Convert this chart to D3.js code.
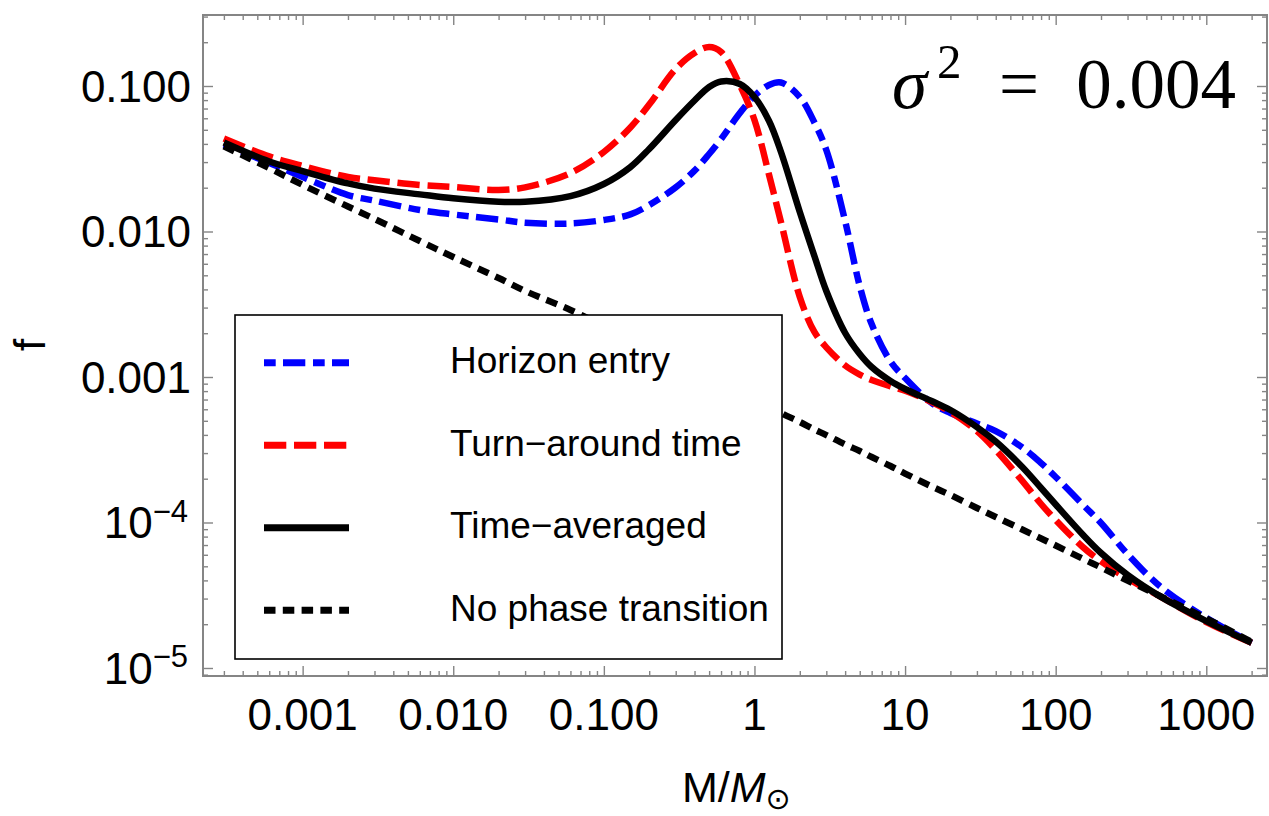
<!DOCTYPE html>
<html>
<head>
<meta charset="utf-8">
<script src="https://cdn.jsdelivr.net/npm/d3@7"></script>
<style>
  html, body { margin: 0; padding: 0; background: #fff; }
  svg { display: block; }
</style>
</head>
<body>
<svg id="chart" width="1269" height="816"></svg>
<script>
// Mass grid (in solar masses) shared by all four curves
const massGrid = [0.0003, 0.0006, 0.001, 0.002, 0.003, 0.006, 0.01, 0.02, 0.03, 0.06,
  0.1, 0.15, 0.2, 0.3, 0.4, 0.5, 0.6, 0.8, 1, 1.25,
  1.5, 2, 2.5, 3, 4, 5, 6, 8, 10, 15,
  20, 30, 40, 60, 80, 100, 150, 200, 300, 500,
  1000, 2000];

// Fraction f for each scenario on the mass grid
const horizonEntry = [0.0396, 0.0296, 0.0237, 0.0178, 0.0163, 0.01405, 0.0131, 0.0121, 0.0115, 0.01135,
  0.0120, 0.0131, 0.0152, 0.0201, 0.0262, 0.0341, 0.0432, 0.0652, 0.0854, 0.1016,
  0.1057, 0.0840, 0.0561, 0.0363, 0.0118, 0.00422, 0.00231, 0.00128, 0.000984, 0.000663,
  0.000566, 0.000479, 0.000425, 0.000328, 0.000256, 0.0002055, 0.000134, 0.0000992, 0.0000607, 0.0000360,
  0.0000221, 0.0000149];

const turnAround = [0.0436, 0.0328, 0.0282, 0.0237, 0.0225, 0.0209, 0.0202, 0.0193, 0.0201, 0.0252,
  0.0352, 0.0519, 0.0745, 0.1309, 0.1686, 0.1854, 0.1713, 0.1016, 0.0584, 0.0245,
  0.0116, 0.00355, 0.00204, 0.00160, 0.00120, 0.00104, 0.000954, 0.000863, 0.000805, 0.000673,
  0.000575, 0.000425, 0.000315, 0.000193, 0.000134, 0.000104, 0.0000684, 0.0000540, 0.0000412, 0.0000308,
  0.0000207, 0.0000149];

const timeAveraged = [0.0409, 0.0303, 0.0260, 0.0214, 0.0197, 0.0180, 0.0169, 0.0160, 0.0160, 0.0175,
  0.0212, 0.0277, 0.0369, 0.0584, 0.0795, 0.0984, 0.1074, 0.1032, 0.0840, 0.0575,
  0.0352, 0.01361, 0.00679, 0.00390, 0.002006, 0.001439, 0.001171, 0.000939, 0.000827, 0.000684,
  0.000593, 0.000453, 0.000360, 0.0002406, 0.0001726, 0.000133, 0.0000834, 0.0000617, 0.0000436, 0.0000308,
  0.0000210, 0.0000149];

const noTransition = [0.0385, 0.0273, 0.0209, 0.01485, 0.0122, 0.00860, 0.00668, 0.00479, 0.00390, 0.00289,
  0.00224, 0.00182, 0.00158, 0.00129, 0.00112, 0.00100, 0.000909, 0.000788, 0.000706, 0.000632,
  0.000566, 0.000491, 0.000436, 0.000399, 0.000344, 0.000310, 0.000282, 0.0002445, 0.000217, 0.000177,
  0.0001545, 0.0001258, 0.0001091, 0.0000895, 0.0000776, 0.0000695, 0.0000566, 0.0000491, 0.0000399, 0.0000310,
  0.0000219, 0.0000151];

// Axis ticks and labels
const xTickValues = [0.001, 0.01, 0.1, 1, 10, 100, 1000];
const xTickLabels = ["0.001", "0.010", "0.100", "1", "10", "100", "1000"];
const yTickValues = [0.1, 0.01, 0.001, 1e-4, 1e-5];
const yTickLabels = [["0.100", ""], ["0.010", ""], ["0.001", ""], ["10", "\u22124"], ["10", "\u22125"]];

const seriesNames = ["Horizon entry", "Turn\u2212around time", "Time\u2212averaged", "No phase transition"];
const seriesValues = [horizonEntry, turnAround, timeAveraged, noTransition];
const seriesColors = ["#0000ff", "#ff0000", "#000000", "#000000"];
const seriesDashes = ["11.7,7.3,22.3,7.7", "22.3,7.7", null, "11.5,7.3"];

const svg = d3.select("#chart");
const sans = "'Liberation Sans', Arial, Helvetica, sans-serif";
const serif = "'Liberation Serif', 'Times New Roman', serif";
const frameGray = "#858585";

const plot = { left: 203, right: 1267, top: 15, bottom: 676 };
const x = d3.scaleLog().domain([2.18e-4, 2530]).range([plot.left, plot.right]);
const y = d3.scaleLog().domain([8.81e-6, 0.3076]).range([plot.bottom, plot.top]);

// Minor tick positions (2..9 times each power of ten) inside each domain
function minorTicks(scale, lo, hi) {
  const [d0, d1] = scale.domain();
  const out = [];
  for (let e = lo; e <= hi; e++) {
    for (let k = 2; k <= 9; k++) {
      const v = k * Math.pow(10, e);
      if (v >= d0 && v <= d1) out.push(v);
    }
  }
  return out;
}
const xMinor = minorTicks(x, -4, 3);
const yMinor = minorTicks(y, -6, -1);

function styleAxis(g) {
  g.select(".domain").remove();
  g.selectAll(".tick line").attr("stroke", frameGray).attr("stroke-width", 1.4);
  g.selectAll(".tick text").remove();
}

// Inward ticks on all four sides
const axes = svg.append("g").attr("class", "axes");
[[xTickValues, 10], [xMinor, 5]].forEach(([vals, len]) => {
  axes.append("g").attr("transform", `translate(0,${plot.bottom})`)
    .call(d3.axisBottom(x).tickValues(vals).tickSize(-len).tickFormat("")).call(styleAxis);
  axes.append("g").attr("transform", `translate(0,${plot.top})`)
    .call(d3.axisTop(x).tickValues(vals).tickSize(-len).tickFormat("")).call(styleAxis);
});
[[yTickValues, 10], [yMinor, 5]].forEach(([vals, len]) => {
  axes.append("g").attr("transform", `translate(${plot.left},0)`)
    .call(d3.axisLeft(y).tickValues(vals).tickSize(-len).tickFormat("")).call(styleAxis);
  axes.append("g").attr("transform", `translate(${plot.right},0)`)
    .call(d3.axisRight(y).tickValues(vals).tickSize(-len).tickFormat("")).call(styleAxis);
});

// Tick labels
svg.append("g").selectAll("text").data(xTickValues).join("text")
  .attr("x", d => x(d)).attr("y", 730)
  .attr("text-anchor", "middle")
  .attr("font-family", sans).attr("font-size", 44).attr("fill", "#000")
  .text((d, i) => xTickLabels[i]);

const yLab = svg.append("g").selectAll("text").data(yTickValues).join("text")
  .attr("x", (d, i) => yTickLabels[i][1] ? 188 : 191)
  .attr("y", d => y(d) + 15.7)
  .attr("text-anchor", "end")
  .attr("font-family", sans).attr("font-size", 44).attr("fill", "#000");
yLab.append("tspan").text((d, i) => yTickLabels[i][0]);
yLab.filter((d, i) => yTickLabels[i][1] !== "")
  .append("tspan").attr("font-size", 31).attr("dy", -16.6)
  .text(d => yTickLabels[yTickValues.indexOf(d)][1]);

// Curves
const line = d3.line()
  .x(d => x(d.m)).y(d => y(d.f))
  .curve(d3.curveCatmullRom.alpha(0.5));

const curves = svg.append("g").attr("class", "curves");
seriesValues.forEach((vals, i) => {
  const pts = massGrid.map((m, j) => ({ m, f: vals[j] }));
  curves.append("path")
    .attr("d", line(pts))
    .attr("fill", "none")
    .attr("stroke", seriesColors[i])
    .attr("stroke-width", 6.5)
    .attr("stroke-dasharray", seriesDashes[i])
    .attr("stroke-linejoin", "round");
});

// Frame
svg.append("rect")
  .attr("x", plot.left).attr("y", plot.top)
  .attr("width", plot.right - plot.left).attr("height", plot.bottom - plot.top)
  .attr("fill", "none").attr("stroke", frameGray).attr("stroke-width", 2);

// Legend
const legend = svg.append("g").attr("class", "legend");
legend.append("rect")
  .attr("x", 235).attr("y", 315).attr("width", 547).attr("height", 344)
  .attr("fill", "#fff").attr("stroke", "#000").attr("stroke-width", 1.6);
const legendRowY = d3.scalePoint().domain(seriesNames).range([362.7, 610.3]);
seriesNames.forEach((name, i) => {
  const ly = legendRowY(name);
  legend.append("line")
    .attr("x1", 264).attr("x2", 349).attr("y1", ly).attr("y2", ly)
    .attr("stroke", seriesColors[i]).attr("stroke-width", 7)
    .attr("stroke-dasharray", seriesDashes[i]);
  legend.append("text")
    .attr("x", 450).attr("y", ly + 10.5)
    .attr("font-family", sans).attr("font-size", 37).attr("fill", "#000")
    .text(name);
});

// Variance annotation
const note = svg.append("g").attr("class", "note").attr("font-family", serif).attr("fill", "#000");
note.append("text").attr("x", 892).attr("y", 108).attr("font-size", 71).attr("font-style", "italic").text("\u03c3");
note.append("text").attr("x", 937).attr("y", 78).attr("font-size", 49).text("2");
note.append("text").attr("x", 1019).attr("y", 108).attr("font-size", 71).attr("text-anchor", "middle").text("=");
note.append("text").attr("x", 1236).attr("y", 108).attr("font-size", 71).attr("text-anchor", "end").text("0.004");

// Axis titles
const xTitle = svg.append("text").attr("x", 682).attr("y", 802)
  .attr("font-family", sans).attr("font-size", 43).attr("fill", "#000");
xTitle.append("tspan").text("M/");
xTitle.append("tspan").attr("font-style", "italic").text("M");
xTitle.append("tspan").attr("font-family", "'DejaVu Sans', sans-serif").attr("font-size", 30).attr("dy", 7).text("\u2299");

svg.append("text")
  .attr("transform", "translate(45,345) rotate(-90)")
  .attr("text-anchor", "middle")
  .attr("font-family", sans).attr("font-size", 44).attr("fill", "#000")
  .text("f");
</script>
</body>
</html>
